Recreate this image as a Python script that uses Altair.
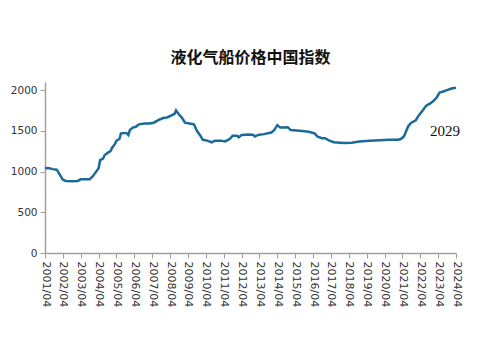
import altair as alt
import pandas as pd

dates = [
    "2001-04-01", "2001-07-01", "2001-09-01", "2001-11-01", "2001-12-01", "2002-02-01",
    "2002-04-01", "2002-06-01", "2002-10-01", "2003-02-01", "2003-04-01", "2003-08-01",
    "2003-10-01", "2003-12-01", "2004-02-01", "2004-04-01", "2004-05-01", "2004-07-01",
    "2004-08-01", "2004-10-01", "2004-12-01", "2005-01-01", "2005-03-01", "2005-04-01",
    "2005-06-01", "2005-07-01", "2005-10-01", "2005-11-01", "2005-12-01", "2006-01-01",
    "2006-03-01", "2006-05-01", "2006-07-01", "2006-11-01", "2007-02-01", "2007-05-01",
    "2007-09-01", "2007-12-01", "2008-02-01", "2008-05-01", "2008-07-01", "2008-08-01",
    "2008-10-01", "2008-12-01", "2009-02-01", "2009-05-01", "2009-08-01", "2009-10-01",
    "2009-12-01", "2010-02-01", "2010-05-01", "2010-08-01", "2010-10-01", "2011-02-01",
    "2011-05-01", "2011-08-01", "2011-10-01", "2012-01-01", "2012-02-01", "2012-04-01",
    "2012-09-01", "2012-12-01", "2013-01-01", "2013-03-01", "2013-07-01", "2013-12-01",
    "2014-02-01", "2014-04-01", "2014-06-01", "2014-11-01", "2015-01-01", "2015-07-01",
    "2016-01-01", "2016-05-01", "2016-07-01", "2016-10-01", "2016-12-01", "2017-03-01",
    "2017-06-01", "2017-10-01", "2018-01-01", "2018-06-01", "2018-11-01", "2019-06-01",
    "2020-01-01", "2020-07-01", "2021-01-01", "2021-03-01", "2021-05-01", "2021-08-01",
    "2021-10-01", "2022-01-01", "2022-03-01", "2022-06-01", "2022-08-01", "2022-11-01",
    "2023-01-01", "2023-03-01", "2023-05-01", "2023-07-01", "2023-10-01", "2024-01-01",
    "2024-04-01",
]
values = [
    1045, 1040, 1030, 1025, 1020, 960,
    900, 885, 880, 885, 905, 905,
    905, 940, 990, 1040, 1140, 1160,
    1200, 1230, 1250, 1290, 1340, 1380,
    1400, 1470, 1475, 1470, 1450, 1510,
    1540, 1550, 1580, 1590, 1590, 1600,
    1640, 1660, 1665, 1690, 1710, 1750,
    1700, 1660, 1600, 1590, 1580, 1500,
    1450, 1390, 1380, 1360, 1380, 1380,
    1370, 1400, 1440, 1440, 1420, 1450,
    1455, 1450, 1430, 1450, 1460, 1480,
    1510, 1570, 1540, 1545, 1510, 1500,
    1490, 1470, 1430, 1410, 1410, 1380,
    1360, 1355, 1350, 1355, 1370, 1380,
    1385, 1390, 1390, 1400, 1430, 1560,
    1600, 1630, 1690, 1760, 1810, 1840,
    1870, 1910, 1970, 1980, 2000, 2020,
    2029,
]
tick_years = list(range(2001, 2025))
y_ticks = [0, 500, 1000, 1500, 2000]
title_text = "液化气船价格中国指数"
last_label = "2029"


def dec_year(s):
    y, m, _ = s.split("-")
    return int(y) + (int(m) - 1) / 12.0


df = pd.DataFrame({"t": [dec_year(d) for d in dates], "value": values})
last_df = pd.DataFrame({"t": [dec_year(dates[-1])], "value": [values[-1]], "label": [last_label]})
tick_vals = [y + 0.25 for y in tick_years]

x_enc = alt.X(
    "t:Q",
    scale=alt.Scale(domain=[tick_vals[0], tick_vals[-1]], nice=False, zero=False),
    axis=alt.Axis(
        values=tick_vals,
        labelExpr="floor(datum.value) + '/04'",
        labelAngle=90,
        labelAlign="left",
        labelBaseline="middle",
        labelPadding=3,
        labelFont="DejaVu Sans",
        labelFontSize=11,
        labelColor="#333333",
        tickSize=5,
        tickColor="#a0a0a0",
        domainColor="#a0a0a0",
        domainWidth=1.5,
        grid=False,
        title=None,
        labelOverlap=False,
        labelBound=False,
        labelFlush=False,
    ),
)
y_enc = alt.Y(
    "value:Q",
    scale=alt.Scale(domain=[0, 2100], nice=False),
    axis=alt.Axis(
        values=y_ticks,
        format="d",
        labelFont="DejaVu Sans",
        labelFontSize=10.5,
        labelColor="#333333",
        labelPadding=3,
        tickSize=5,
        tickColor="#a0a0a0",
        domainColor="#a0a0a0",
        domainWidth=1.5,
        grid=False,
        title=None,
    ),
)

line = alt.Chart(df).mark_line(color="#1b6a98", strokeWidth=2.5).encode(x=x_enc, y=y_enc)
label = alt.Chart(last_df).mark_text(
    font="Liberation Serif", fontSize=15, color="#111111", dx=-11, dy=43,
    align="center", baseline="middle",
).encode(x=x_enc, y=y_enc, text="label:N")

chart = (line + label).properties(
    width=411,
    height=171,
    autosize=alt.AutoSizeParams(type="none"),
    padding={"left": 45, "top": 82, "right": 27, "bottom": 84},
    background="white",
    title=alt.TitleParams(
        title_text, font="Noto Sans CJK SC", fontSize=16, fontWeight="bold",
        color="#111111", anchor="middle", baseline="bottom", offset=0,
    ),
).configure_view(stroke=None).configure_axis(labelOverlap=False)

chart.save("out.html", embed_options={"renderer": "svg", "actions": False})
